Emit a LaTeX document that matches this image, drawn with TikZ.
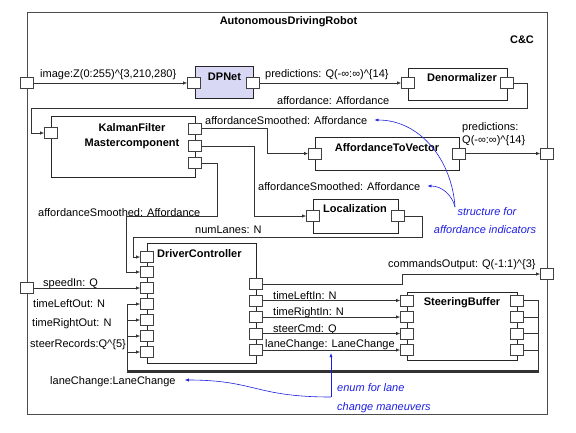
\documentclass[tikz,border=0pt]{standalone}
\usepackage{fontspec}
\setmainfont{Liberation Sans}
\usetikzlibrary{arrows.meta}
\definecolor{dplav}{RGB}{216,216,244}
\definecolor{annblue}{RGB}{30,30,225}
\newcommand{\lfont}{\fontsize{11}{13}\selectfont}
\newcommand{\crt}{\textasciicircum}
\begin{document}
\begin{tikzpicture}[x=1pt,y=-1pt,
  port/.style={draw=black!75, fill=white, minimum width=13pt, minimum height=11pt, inner sep=0pt, line width=0.6pt},
  comp/.style={draw=black!85, line width=0.7pt, inner sep=0pt},
  ttl/.style={font=\lfont\bfseries, inner sep=0pt, text height=8pt, text depth=0pt},
  lbl/.style={font=\lfont, inner sep=0pt, text height=8pt, text depth=0pt},
  conn/.style={draw=black!80, line width=0.6pt},
  arr/.style={conn, -{Latex[length=4pt,width=3.2pt]}},
  ann/.style={font=\lfont\itshape, text=annblue, inner sep=0pt, text height=8pt, text depth=0pt},
  annarr/.style={draw=annblue, line width=0.6pt, -{Latex[length=4pt,width=3.2pt]}},
]
\useasboundingbox (0,0) rectangle (576,432);

% outer component
\node[comp, draw=black!70, minimum width=520pt, minimum height=402pt] (robot) at (287,213) {};
\node[ttl] (robottitle) at (288.5,20) {AutonomousDrivingRobot};
\node[ttl] (cc) at (522,39) {C\&C};

% components
\node[comp, fill=dplav, minimum width=58pt, minimum height=32pt] (dpnet) at (224,82) {};
\node[comp, minimum width=99pt, minimum height=32pt] (denorm) at (457.5,84) {};
\node[comp, minimum width=144pt, minimum height=61pt] (kf) at (123,146.5) {};
\node[comp, minimum width=144pt, minimum height=33pt] (a2v) at (387,153.5) {};
\node[comp, minimum width=85pt, minimum height=34pt] (loc) at (355.5,216) {};
\node[comp, minimum width=109pt, minimum height=120pt] (dc) at (201.5,303) {};
\node[comp, minimum width=110pt, minimum height=68pt] (sb) at (462,326) {};

% titles
\node[ttl] (dpnettitle) at (224.5,76) {DPNet};
\node[ttl] (denormtitle) at (462,77) {Denormalizer};
\node[ttl] (kftitleA) at (132,127) {KalmanFilter};
\node[ttl] (kftitleB) at (132,142) {Mastercomponent};
\node[ttl] (a2vtitle) at (387,147) {AffordanceToVector};
\node[ttl] (loctitle) at (355,208) {Localization};
\node[ttl, anchor=west] (dctitle) at (157,253) {DriverController};
\node[ttl] (sbtitle) at (462,301) {SteeringBuffer};

% ports
\node[port] (fimg) at (27,83) {};
\node[port] (fspeed) at (27,288) {};
\node[port] (fpred) at (547,153.5) {};
\node[port] (fcmd) at (547,274) {};
\node[port] (dpin) at (194,83) {};
\node[port] (dpout) at (253,83) {};
\node[port] (denin) at (408,83) {};
\node[port] (denout) at (507,83) {};
\node[port] (kfin) at (51,133) {};
\node[port] (kfo1) at (195,128.5) {};
\node[port] (kfo2) at (195,146) {};
\node[port] (kfo3) at (195,163) {};
\node[port] (a2vin) at (315,153.5) {};
\node[port] (a2vout) at (459,153.5) {};
\node[port] (locin) at (313,216) {};
\node[port] (locout) at (398,216) {};
\foreach \i/\y in {1/257,2/272,3/288,4/304,5/320,6/336,7/352}
  \node[port] (dcin\i) at (147,\y) {};
\foreach \i/\y in {1/284,2/300.5,3/317,4/333.5,5/350}
  \node[port] (dco\i) at (256,\y) {};
\foreach \i/\y in {1/300.5,2/317,3/333.5,4/350}{
  \node[port] (sbin\i) at (407,\y) {};
  \node[port] (sbo\i) at (517,\y) {};
}

% labels
\node[lbl, anchor=west] (limg) at (40,73) {image:Z(0:255)\crt\{3,210,280\}};
\node[lbl, anchor=west] (lpred) at (265,73) {predictions: Q(-∞:∞)\crt\{14\}};
\node[lbl, anchor=west] (laff) at (277,100) {affordance: Affordance};
\node[lbl, anchor=west] (smooth1) at (205,120) {affordanceSmoothed: Affordance};
\node[lbl, anchor=west] (smooth2) at (258,186) {affordanceSmoothed: Affordance};
\node[lbl, anchor=west] (smooth3) at (38,212) {affordanceSmoothed: Affordance};
\node[lbl, anchor=west] (lnum) at (195,229) {numLanes: N};
\node[lbl, anchor=west] (lpredA) at (462,126) {predictions:};
\node[lbl, anchor=west] (lpredB) at (462,139) {Q(-∞:∞)\crt\{14\}};
\node[lbl, anchor=west] (lcmd) at (388,263) {commandsOutput: Q(-1:1)\crt\{3\}};
\node[lbl, anchor=west] (lspeed) at (43,282) {speedIn: Q};
\node[lbl, anchor=west] (ltlo) at (33,303) {timeLeftOut: N};
\node[lbl, anchor=west] (ltro) at (32,322) {timeRightOut: N};
\node[lbl, anchor=west] (lsr) at (30,343) {steerRecords:Q\crt\{5\}};
\node[lbl, anchor=west] (lcOut) at (50,380) {laneChange:LaneChange};
\node[lbl, anchor=west] (ltli) at (273,295) {timeLeftIn: N};
\node[lbl, anchor=west] (ltri) at (273,311) {timeRightIn: N};
\node[lbl, anchor=west] (lsc) at (273,328) {steerCmd: Q};
\node[lbl, anchor=west] (lcIn) at (265,343) {laneChange: LaneChange};

% annotations
\node[ann] (annA1) at (487,211) {structure for};
\node[ann] (annA2) at (485,229) {affordance indicators};
\node[ann, anchor=west] (annB1) at (337,387) {enum for lane};
\node[ann, anchor=west] (annB2) at (337,406) {change maneuvers};
\coordinate (annA) at (455,207);
\coordinate (annB) at (331,397);

% connectors
\draw[arr] (fimg.east) -- (dpin.west);
\draw[arr] (dpout.east) -- (denin.west);
\draw[arr] (denout.east) -| (527,108) -| (31,133) -- (kfin.west);
\draw[arr] (kfo1.east) -- ++(65.5,0) |- (a2vin.west);
\draw[arr] (kfo2.east) -- ++(52.5,0) |- (locin.west);
\draw[arr] (kfo3.east) -- ++(15.5,0) -- ++(0,53) -- ++(-91,0) |- (dcin2.west);
\draw[arr] (locout.east) -- ++(17.5,0) -- ++(0,21) -- ++(-289,0) |- (dcin1.west);
\draw[arr] (a2vout.east) -- (fpred.west);
\draw[arr] (fspeed.east) -- (dcin3.west);
\draw[arr] (dco1.east) -- ++(139.5,0) |- (fcmd.west);
\foreach \i [evaluate=\i as \j using int(\i+1)] in {1,2,3,4}
  \draw[arr] (dco\j.east) -- (sbin\i.west);
\foreach \i/\k/\Y in {1/4/370,2/5/370.8,3/6/371.6,4/7/372.4}
  \draw[arr] (sbo\i.east) -| (538,\Y) -- (127,\Y) |- (dcin\k.west);

% annotation arrows
\draw[annarr] (annA) .. controls (452,160) and (420,120) .. ([xshift=7pt]smooth1.east);
\draw[annarr] (annA) .. controls (452,195) and (442,186) .. ([xshift=7pt]smooth2.east);
\draw[annarr, shorten >=6pt] (annB) -- (annB |- lcIn.south);
\draw[annarr] (annB) .. controls (255,397) and (255,380) .. ([xshift=9pt]lcOut.east);
\end{tikzpicture}
\end{document}
